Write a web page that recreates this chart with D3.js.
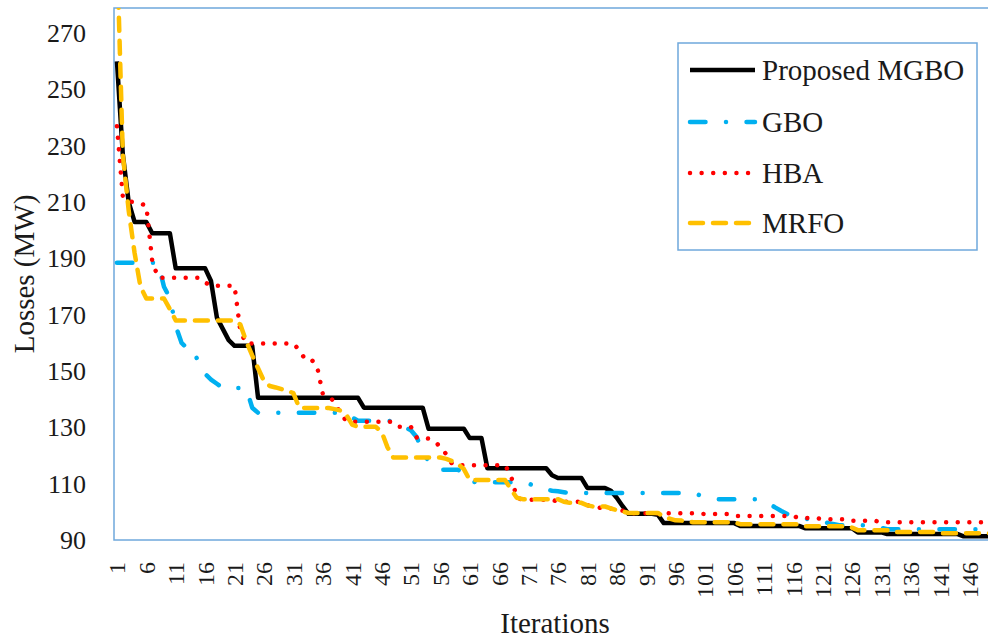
<!DOCTYPE html>
<html>
<head>
<meta charset="utf-8">
<script src="https://cdn.jsdelivr.net/npm/d3@7"></script>
<style>
  html, body { margin: 0; padding: 0; background: #fff; overflow: hidden; }
  svg { display: block; }
  text { font-family: "Liberation Serif", "Times New Roman", serif; fill: #1a1a1a; }
</style>
</head>
<body>
<svg id="chart" width="988" height="643"></svg>
<script>
// Convergence of the best losses (MW) per iteration, four optimizers.
const iterations = d3.range(1, 151);

const seriesNames = ["Proposed MGBO", "GBO", "HBA", "MRFO"];

const mgbo = [
  260, 227, 210, 203, 203, 203, 199, 199, 199, 199,
  186.5, 186.5, 186.5, 186.5, 186.5, 186.5, 182, 169, 165, 161,
  159, 159, 159, 159, 140.5, 140.5, 140.5, 140.5, 140.5, 140.5,
  140.5, 140.5, 140.5, 140.5, 140.5, 140.5, 140.5, 140.5, 140.5, 140.5,
  140.5, 140.5, 137, 137, 137, 137, 137, 137, 137, 137,
  137, 137, 137, 129.5, 129.5, 129.5, 129.5, 129.5, 129.5, 129.5,
  126.2, 126.2, 126.2, 115.5, 115.5, 115.5, 115.5, 115.5, 115.5, 115.5,
  115.5, 115.5, 115.5, 115.5, 113, 112, 112, 112, 112, 112,
  108.5, 108.5, 108.5, 108.5, 107.5, 105, 102, 99.3, 99.3, 99.3,
  99.3, 99.3, 99, 96, 96, 96, 96, 96, 96, 96,
  96, 96, 96, 96, 96, 96, 95, 95, 95, 95,
  95, 95, 95, 95, 95, 95, 95, 94.2, 94.2, 94.2,
  94.2, 94.2, 94.2, 94.2, 94.2, 94.2, 92.7, 92.7, 92.7, 92.7,
  92.7, 92.1, 92.1, 92.1, 92.1, 92.1, 92.1, 92.1, 92.1, 92.1,
  92.1, 92.1, 92.1, 92.1, 91.3, 91.3, 91.3, 91.3, 91.3, 91.3
];

const gbo = [
  188.5, 188.5, 188.5, 188.5, 188.5, 188.5, 188.5, 188.5, 180, 176,
  166, 160, 158, 158, 152, 149, 147, 145.5, 144, 144,
  144, 144, 144, 137, 135.2, 135.2, 135.2, 135.2, 135.2, 135.2,
  135.2, 135.2, 135.2, 135.2, 135.2, 135.2, 135.2, 135.2, 135.2, 134.5,
  133.5, 132.4, 132.4, 132.4, 132.4, 132.4, 132.4, 132, 131, 130,
  129, 126.5, 121, 118, 116, 115, 115, 115, 115, 113.5,
  111, 110.5, 110.5, 110.5, 110.5, 110.5, 110.5, 110.5, 110.5, 110.5,
  110, 109.3, 108.5, 108, 107.5, 107.3, 107, 106.7, 106.7, 106.7,
  106.7, 106.7, 106.7, 106.7, 106.7, 106.7, 106.7, 106.7, 106.7, 106.7,
  106.7, 106.7, 106.7, 106.7, 106.7, 106.7, 106.7, 106.7, 106.7, 106,
  105.3, 104.8, 104.5, 104.5, 104.5, 104.5, 104.5, 104.5, 104.5, 104.5,
  103.8, 102.8, 101.5, 100.3, 99.2, 98.4, 97.9, 97.6, 97.3, 97,
  96.5, 96, 95.6, 95.2, 95.2, 95.2, 95.2, 95.2, 95.2, 94.8,
  94.3, 93.8, 93.8, 93.8, 93.8, 93.8, 93.8, 93.8, 93.8, 93.8,
  93.8, 93.8, 93.8, 93.8, 93.8, 93.8, 93.8, 93.8, 93.8, 93.8
];

const hba = [
  237, 212, 210.3, 210, 209.5, 208.8, 189, 183.2, 183.2, 183.2,
  183.2, 183.2, 183.2, 183.2, 183.2, 181.5, 180.3, 180.3, 180.3, 180.3,
  180.3, 164, 159.8, 159.8, 159.8, 159.8, 159.8, 159.8, 159.8, 159.8,
  159.8, 157.5, 154.2, 154.2, 152, 142, 141.2, 139, 135, 132.3,
  132, 132, 132, 132, 132, 132, 132, 132, 130.2, 130.2,
  130.2, 126.3, 126.2, 126, 125.2, 123, 120.5, 117, 116.6, 116.6,
  116.6, 116.6, 116.6, 116.6, 116.6, 116.6, 116.6, 113, 105, 104.3,
  104.3, 104.3, 104.3, 104.3, 104.3, 103.6, 103.6, 103.6, 103.6, 103.6,
  102.3, 102, 101.5, 101.1, 101.1, 101.1, 100.4, 99.8, 99.5, 99.5,
  99.5, 99.5, 99.5, 99.5, 99.5, 99.5, 99.5, 99.5, 99.5, 99.5,
  99.2, 99.2, 99.2, 99.2, 99.2, 98.5, 98.5, 98.5, 98.5, 98.5,
  98.5, 98.5, 98.5, 98.5, 98.5, 98.5, 97.8, 97.8, 97.8, 97.8,
  97.4, 97.4, 97.4, 97.4, 97.4, 96.8, 96.8, 96.8, 96.8, 96.8,
  96.3, 96.3, 96.3, 96.3, 96.3, 96.3, 96.3, 96.3, 96.3, 96.3,
  96.3, 96.3, 96.3, 96.3, 96.3, 96.3, 96.3, 96.3, 96.3, 96.3
];

const mrfo = [
  300, 227, 207, 192, 180, 175.8, 175.8, 175.8, 175.8, 172,
  168, 168, 168, 168, 168, 168, 168, 168, 168, 168,
  168, 166.5, 160.5, 155.6, 151, 146.5, 144.7, 144.2, 143.6, 143,
  142.2, 137, 136.9, 136.9, 136.9, 136.9, 136.9, 136.5, 136, 134.5,
  131, 130.2, 130.2, 130.2, 130.2, 128.5, 123, 119.3, 119.3, 119.3,
  119.3, 119.3, 119.3, 119.3, 119.3, 119.3, 118.8, 118, 117, 115.2,
  111.3, 111.3, 111.3, 111.3, 111.3, 111.3, 111.3, 108, 105, 104.5,
  104.5, 104.5, 104.5, 104.5, 104.5, 104.5, 103.6, 103.2, 103.2, 103.2,
  102.3, 101.9, 101.9, 101.9, 101.2, 100.6, 100.1, 99.6, 99.6, 99.6,
  99.6, 99.6, 99.6, 98.2, 97.6, 97, 96.9, 96.6, 96.3, 96.3,
  96.3, 96.3, 96.3, 96.3, 96.3, 96.3, 95.6, 95.6, 95.6, 95.6,
  95.6, 95.6, 95.6, 95.6, 95.6, 95.6, 95.6, 94.9, 94.9, 94.9,
  94.9, 94.9, 94.9, 94.9, 94.9, 94.4, 93.5, 93.5, 93.5, 93.5,
  93.5, 93.5, 92.8, 92.8, 92.8, 92.8, 92.8, 92.8, 92.8, 92.8,
  92.4, 92.4, 92.4, 92.4, 92.4, 92.4, 92.4, 92.4, 92.4, 92.4
];

const yTicks = [90, 110, 130, 150, 170, 190, 210, 230, 250, 270];
const xTickLabels = [1, 6, 11, 16, 21, 26, 31, 36, 41, 46, 51, 56, 61, 66, 71,
  76, 81, 86, 91, 96, 101, 106, 111, 116, 121, 126, 131, 136, 141, 146];

// Line styles per series (Excel-like solid, dash-dot, round dot, dash)
const styles = [
  { color: "#000000", width: 4.5, dash: null, cap: "butt" },
  { color: "#00B0F0", width: 4.5, dash: "15.5 20.5 0.01 20.5", cap: "round" },
  { color: "#FF0000", width: 4.5, dash: "0.01 11.6", cap: "round" },
  { color: "#FFC000", width: 4.5, dash: "13 10", cap: "round" }
];

const allSeries = [mgbo, gbo, hba, mrfo].map((vals, k) => ({
  name: seriesNames[k],
  style: styles[k],
  points: iterations.map((it, j) => ({ it, v: vals[j] }))
}));

const plot = { left: 114, top: 8, right: 996, bottom: 540 };
const borderColor = "#6FA8DC";

const svg = d3.select("#chart");

const x = d3.scaleBand().domain(iterations).range([plot.left, plot.right]).padding(0);
const cx = it => x(it) + x.bandwidth() / 2;
const y = d3.scaleLinear().domain([90, 279]).range([plot.bottom, plot.top]);

svg.append("defs").append("clipPath").attr("id", "plotClip")
  .append("rect")
  .attr("x", plot.left).attr("y", plot.top)
  .attr("width", plot.right - plot.left).attr("height", plot.bottom - plot.top);

// Plot-area frame
svg.append("rect")
  .attr("x", plot.left).attr("y", plot.top)
  .attr("width", plot.right - plot.left).attr("height", plot.bottom - plot.top)
  .attr("fill", "#fff").attr("stroke", borderColor).attr("stroke-width", 1.5);

// Series lines
const line = d3.line().x(d => cx(d.it)).y(d => y(d.v));
const lines = svg.append("g").attr("clip-path", "url(#plotClip)");
allSeries.forEach(s => {
  lines.append("path")
    .datum(s.points)
    .attr("d", line)
    .attr("fill", "none")
    .attr("stroke", s.style.color)
    .attr("stroke-width", s.style.width)
    .attr("stroke-linecap", s.style.cap)
    .attr("stroke-linejoin", "round")
    .attr("stroke-dasharray", s.style.dash);
});

// Y axis
const yAxis = svg.append("g")
  .attr("transform", `translate(${plot.left},0)`)
  .call(d3.axisLeft(y).tickValues(yTicks).tickSize(0).tickPadding(28));
yAxis.select(".domain").remove();
yAxis.selectAll("text")
  .style("font-family", "'Liberation Serif', serif")
  .style("font-size", "26px")
  .attr("fill", "#1a1a1a");

// X axis (category labels every 5 iterations, rotated)
const xAxis = svg.append("g")
  .attr("transform", `translate(0,${plot.bottom})`)
  .call(d3.axisBottom(x).tickValues(xTickLabels).tickSize(0));
xAxis.select(".domain").remove();
xAxis.selectAll("text")
  .style("font-family", "'Liberation Serif', serif")
  .style("font-size", "24px")
  .attr("fill", "#1a1a1a")
  .attr("text-anchor", "end")
  .attr("dy", "0.35em")
  .attr("x", 0)
  .attr("y", 0)
  .attr("transform", "translate(0,22) rotate(-90)");

// Axis titles
svg.append("text")
  .attr("x", (plot.left + plot.right) / 2)
  .attr("y", 633)
  .attr("text-anchor", "middle")
  .style("font-size", "29px")
  .text("Iterations");

svg.append("text")
  .attr("transform", `translate(34,${(plot.top + plot.bottom) / 2}) rotate(-90)`)
  .attr("text-anchor", "middle")
  .style("font-size", "29px")
  .text("Losses (MW)");

// Legend
const legend = svg.append("g");
legend.append("rect")
  .attr("x", 678).attr("y", 43).attr("width", 299).attr("height", 207)
  .attr("fill", "#fff").attr("stroke", borderColor).attr("stroke-width", 1.5);
const rowY = [70, 122, 173, 223];
allSeries.forEach((s, k) => {
  legend.append("line")
    .attr("x1", 690).attr("x2", 755)
    .attr("y1", rowY[k]).attr("y2", rowY[k])
    .attr("stroke", s.style.color)
    .attr("stroke-width", s.style.width)
    .attr("stroke-linecap", s.style.cap)
    .attr("stroke-dasharray", s.style.dash);
  legend.append("text")
    .attr("x", 762).attr("y", rowY[k])
    .attr("dy", "0.35em")
    .style("font-size", "29px")
    .text(s.name);
});
</script>
</body>
</html>
